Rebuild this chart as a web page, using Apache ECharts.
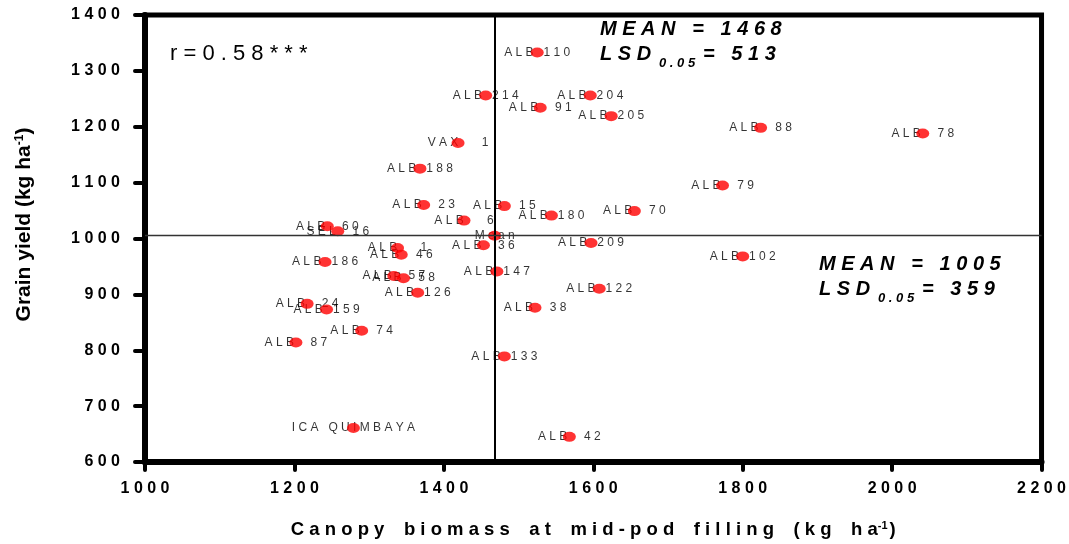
<!DOCTYPE html>
<html>
<head>
<meta charset="utf-8">
<script src="https://cdn.jsdelivr.net/npm/echarts@6/dist/echarts.min.js"></script>
<style>
  html, body { margin: 0; padding: 0; background: #fff; }
  #chart { width: 1069px; height: 544px; }
</style>
</head>
<body>
<div id="chart"></div>
<script>
// Genotypes: canopy biomass at mid-pod filling vs grain yield (kg/ha)
const genotypes = ['ALB 110', 'ALB 214', 'ALB 204', 'ALB 91', 'ALB 205', 'ALB 88', 'ALB 78', 'VAX 1',
  'ALB 188', 'ALB 79', 'ALB 23', 'ALB 15', 'ALB 180', 'ALB 70', 'ALB 6', 'ALB 60', 'SEL 16', 'Mean',
  'ALB 1', 'ALB 36', 'ALB 209', 'ALB 46', 'ALB 186', 'ALB 102', 'ALB 147', 'ALB 57', 'ALB 58',
  'ALB 122', 'ALB 126', 'ALB 24', 'ALB 159', 'ALB 38', 'ALB 74', 'ALB 87', 'ALB 133', 'ICA QUIMBAYA', 'ALB 42'];
const biomass = [1525, 1456, 1596, 1529, 1624, 1824, 2041, 1419,
  1368, 1773, 1373, 1481, 1544, 1655, 1427, 1244, 1258, 1468,
  1338, 1453, 1597, 1343, 1241, 1800, 1471, 1333, 1346,
  1608, 1365, 1217, 1243, 1522, 1290, 1202, 1481, 1279, 1568];
const grainYield = [1333, 1256, 1256, 1234, 1219, 1198, 1188, 1171,
  1125, 1095, 1060, 1058, 1041, 1049, 1032, 1022, 1013, 1005,
  983, 988, 992, 971, 958, 968, 941, 933, 929,
  910, 903, 883, 873, 876, 835, 814, 789, 661, 645];

// Axis ranges [min, max, step]
const xRange = [1000, 2200, 200];
const yRange = [600, 1400, 100];

// Trial means and least significant differences
const meanBiomass = 1468;
const lsdBiomass = 513;
const meanYield = 1005;
const lsdYield = 359;
const correlation = 'r=0.58***';

const FONT = '"Liberation Sans", Arial, Helvetica, sans-serif';

// letter-spaced text, as in the original typesetting
function spaced(s, gap) { return s.split('').join(gap || ' '); }
function pointLabel(name) {
  const m = name.match(/^(\S+) (\d+)$/);
  const t = m ? m[1] + ' ' + m[2].padStart(3, ' ') : name;
  return spaced(t, ' ');
}

const points = biomass.map((x, i) => ({ name: genotypes[i], value: [x, grainYield[i]] }));

const chart = echarts.init(document.getElementById('chart'), null, { renderer: 'canvas' });

const boldItalic = 'italic bold 20px ' + FONT;
const subFont = 'italic bold 13px ' + FONT;

function statBlock(x, y, meanVal, lsdVal) {
  return {
    type: 'group',
    children: [
      { type: 'text', x: x, y: y, style: { text: spaced('MEAN = ' + meanVal), font: boldItalic, fill: '#000', align: 'left', verticalAlign: 'middle' } },
      { type: 'text', x: x, y: y + 25, style: { text: spaced('LSD'), font: boldItalic, fill: '#000', align: 'left', verticalAlign: 'middle' } },
      { type: 'text', x: x + 59, y: y + 34, style: { text: spaced('0.05'), font: subFont, fill: '#000', align: 'left', verticalAlign: 'middle' } },
      { type: 'text', x: x + 103, y: y + 25, style: { text: spaced('= ' + lsdVal), font: boldItalic, fill: '#000', align: 'left', verticalAlign: 'middle' } }
    ]
  };
}

const tickLabel = v => spaced(String(v), ' ');

const option = {
  backgroundColor: '#fff',
  animation: false,
  grid: { left: 145, right: 26, top: 15, bottom: 81, show: true, borderColor: '#000', borderWidth: 5, containLabel: false },
  xAxis: {
    type: 'value',
    min: xRange[0], max: xRange[1], interval: xRange[2],
    splitLine: { show: false },
    axisLine: { show: true, onZero: false, lineStyle: { color: '#000', width: 6 } },
    axisTick: { show: true, length: 8, lineStyle: { color: '#000', width: 4, cap: 'round' } },
    axisLabel: { margin: 19, color: '#000', fontFamily: FONT, fontWeight: 'bold', fontSize: 16, formatter: tickLabel },
    name: spaced('Canopy biomass at mid-pod filling (kg ha'.replace(/ /g, '\u2002')) + '{s|-1}{t|)}',
    nameLocation: 'middle',
    nameGap: 58,
    nameTextStyle: {
      color: '#000', fontFamily: FONT, fontWeight: 'bold', fontSize: 18.5,
      rich: {
        s: { fontFamily: FONT, fontWeight: 'bold', fontSize: 11, verticalAlign: 'top', color: '#000' },
        t: { fontFamily: FONT, fontWeight: 'bold', fontSize: 18.5, color: '#000', padding: [0, 0, 0, 2] }
      }
    }
  },
  yAxis: {
    type: 'value',
    min: yRange[0], max: yRange[1], interval: yRange[2],
    splitLine: { show: false },
    axisLine: { show: true, onZero: false, lineStyle: { color: '#000', width: 6 } },
    axisTick: { show: true, length: 10, lineStyle: { color: '#000', width: 4, cap: 'round' } },
    axisLabel: { margin: 25, color: '#000', fontFamily: FONT, fontWeight: 'bold', fontSize: 16, formatter: tickLabel },
    name: 'Grain yield (kg ha{s|-1})',
    nameLocation: 'middle',
    nameGap: 110,
    nameTextStyle: {
      color: '#000', fontFamily: FONT, fontWeight: 'bold', fontSize: 21, padding: [0, 0, 0, 28],
      rich: { s: { fontFamily: FONT, fontWeight: 'bold', fontSize: 12, verticalAlign: 'top', color: '#000' } }
    }
  },
  series: [
    {
      // genotype names, drawn beneath the markers
      type: 'scatter',
      z: 2,
      data: points,
      symbolSize: 1,
      itemStyle: { color: 'rgba(0,0,0,0)' },
      silent: true,
      label: {
        show: true, position: 'inside', color: '#000', fontFamily: FONT, fontSize: 12,
        formatter: p => pointLabel(p.name)
      },
      markLine: {
        silent: true, symbol: 'none', animation: false,
        label: { show: false },
        data: [
          { xAxis: meanBiomass, lineStyle: { color: '#000', width: 2, type: 'solid' } },
          { yAxis: meanYield, lineStyle: { color: '#333', width: 1.3, type: 'solid' } }
        ]
      }
    },
    {
      type: 'scatter',
      z: 3,
      data: points,
      symbol: 'circle',
      symbolSize: [13, 10],
      itemStyle: { color: '#ff0000' },
      label: { show: false }
    }
  ],
  graphic: [
    { type: 'text', x: 170, y: 54, style: { text: spaced(correlation), font: '22px ' + FONT, fill: '#000', align: 'left', verticalAlign: 'middle' } },
    statBlock(600, 29, meanBiomass, lsdBiomass),
    statBlock(819, 264, meanYield, lsdYield)
  ]
};

chart.setOption(option);
</script>
</body>
</html>
